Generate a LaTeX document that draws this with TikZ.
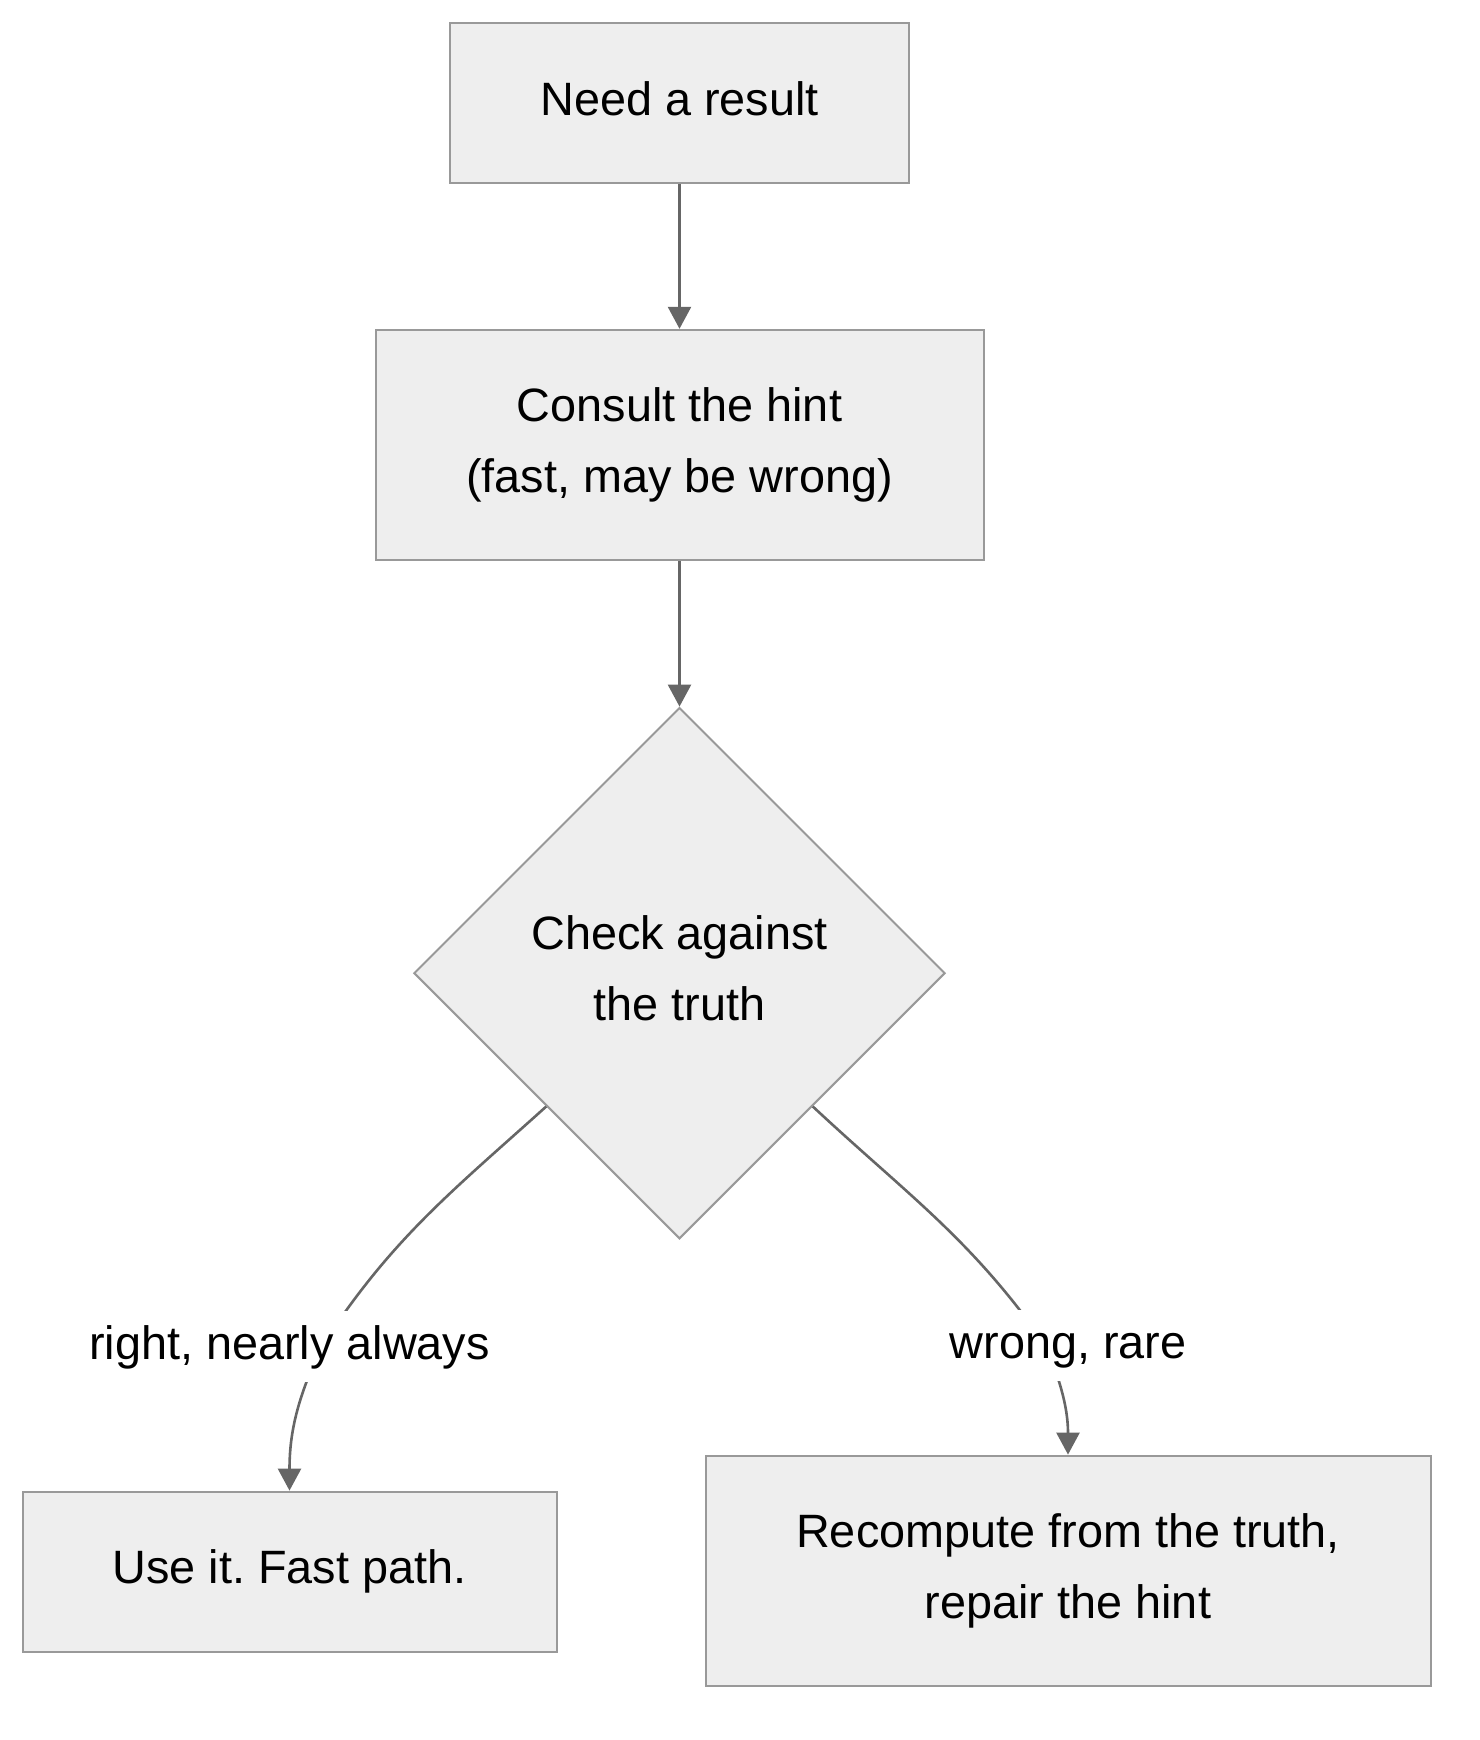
\documentclass[tikz,border=0pt]{standalone}
\usepackage{fontspec}
\setmainfont{Liberation Sans}
\usetikzlibrary{positioning, shapes.geometric, arrows.meta}

\definecolor{boxfill}{HTML}{EEEEEE}
\definecolor{boxline}{HTML}{999999}
\definecolor{arrowline}{HTML}{666666}

\frenchspacing
\begin{document}
\begin{tikzpicture}[
font=\fontsize{23.4pt}{35.5pt}\selectfont,
every node/.style={inner sep=0pt},
box/.style={draw=boxline, fill=boxfill, line width=1pt, align=center},
decision/.style={box, diamond, minimum width=265.6pt, minimum height=265.6pt},
edgelabel/.style={fill=white, inner xsep=2pt, inner ysep=6pt, text height=18pt, text depth=5.5pt},
arrow/.style={draw=arrowline, line width=1.3pt, -{Triangle[width=11.5pt, length=11pt]}}
]
\useasboundingbox (0,0) rectangle (739.5pt,-870pt);

% Nodes
\node[box, minimum width=229.5pt, minimum height=80pt] (need) at (339.75pt,-51.5pt) {Need a result\vphantom{g}};
\node[box, minimum width=304pt, minimum height=115pt] (hint) [below=72.4pt of need] {Consult the hint\\(fast, may be wrong)};
\node[decision] (check) [below=72.9pt of hint] {Check against\\the truth\vphantom{g}};
\node[box, minimum width=267pt, minimum height=80pt] (usehint) [below=125.4pt of check, xshift=-195pt] {Use it. Fast path.};
\node[box, minimum width=362.5pt, minimum height=115pt] (recompute) [below=107.4pt of check, xshift=194.25pt] {Recompute from the truth,\\repair the hint};

% Bend points, hidden under the labels
\coordinate (rightbend) at ([xshift=16pt, yshift=72pt]usehint.north);
\coordinate (wrongbend) at ([xshift=-11pt, yshift=54.5pt]recompute.north);

% Arrows
\draw[arrow] (need) -- (hint);
\draw[arrow] (hint) -- (check);
\draw[arrow] (check.south west) to[out=222, in=57] (rightbend) to[out=245, in=90] (usehint.north);
\draw[arrow] (check.south east) to[out=-43, in=125] (wrongbend) to[out=-68, in=90] (recompute.north);

% Edge labels sit on top of the curves
\node[edgelabel] (rightlabel) [above=54pt of usehint] {right, nearly always};
\node[edgelabel] (wronglabel) [above=36.5pt of recompute] {wrong, rare};
\end{tikzpicture}
\end{document}
